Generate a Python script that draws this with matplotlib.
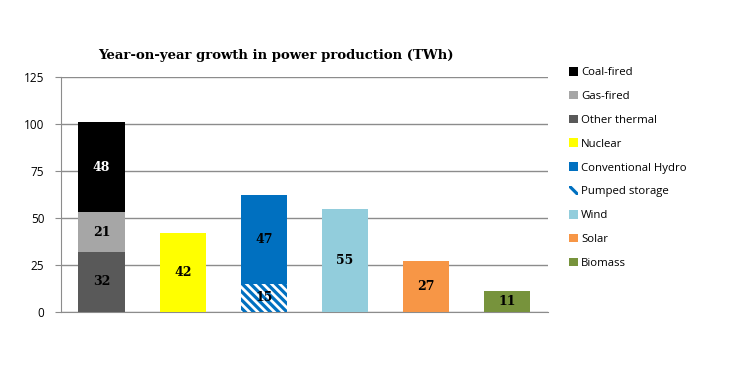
import matplotlib
matplotlib.use("Agg")
import matplotlib.pyplot as plt
from matplotlib.patches import Patch
import numpy as np

plt.rcParams['hatch.linewidth'] = 2.3

categories = ["Thermal", "Nuclear", "Hydro", "Wind", "Solar", "Biomass"]
series_names = ["Coal-fired", "Gas-fired", "Other thermal", "Nuclear",
                "Conventional Hydro", "Pumped storage", "Wind", "Solar", "Biomass"]
other_thermal = [32]
gas_fired = [21]
coal_fired = [48]
nuclear = [42]
pumped_storage = [15]
conventional_hydro = [47]
wind = [55]
solar = [27]
biomass = [11]
yticks = [0, 25, 50, 75, 100, 125]

colors = {
    "Coal-fired": "#000000",
    "Gas-fired": "#a6a6a6",
    "Other thermal": "#595959",
    "Nuclear": "#ffff00",
    "Conventional Hydro": "#0070c0",
    "Pumped storage": "#ffffff",
    "Wind": "#92cddc",
    "Solar": "#f79646",
    "Biomass": "#77933c",
}

stacks = [
    (0, [("Other thermal", other_thermal[0]), ("Gas-fired", gas_fired[0]), ("Coal-fired", coal_fired[0])]),
    (1, [("Nuclear", nuclear[0])]),
    (2, [("Pumped storage", pumped_storage[0]), ("Conventional Hydro", conventional_hydro[0])]),
    (3, [("Wind", wind[0])]),
    (4, [("Solar", solar[0])]),
    (5, [("Biomass", biomass[0])]),
]

HATCH = "\\" * 4

fig = plt.figure(figsize=(7.3, 3.65), dpi=100)
ax = fig.add_axes([0.0836, 0.1452, 0.667, 0.644])
width = 0.57
label_font = dict(family="DejaVu Serif", fontweight="bold", fontsize=9)

for xi, segs in stacks:
    bottom = 0
    for name, val in segs:
        if name == "Pumped storage":
            ax.bar(xi, val, width, bottom=bottom, color="white", edgecolor="#0070c0",
                   hatch=HATCH, linewidth=0, zorder=3)
        else:
            ax.bar(xi, val, width, bottom=bottom, color=colors[name], linewidth=0, zorder=3)
        tc = "white" if name == "Coal-fired" else "black"
        ax.text(xi, bottom + val / 2, str(val), ha="center", va="center",
                color=tc, zorder=5, **label_font)
        bottom += val

ax.set_xlim(-0.5, 5.5)
ax.set_ylim(0, 125)
ax.set_yticks(yticks)
ax.set_xticks([])
ax.yaxis.grid(True, color="#8c8c8c", linewidth=1)
ax.set_axisbelow(True)
for s in ["top", "right"]:
    ax.spines[s].set_visible(False)
ax.spines["left"].set_color("#8c8c8c")
ax.spines["bottom"].set_color("#8c8c8c")
ax.tick_params(axis="y", length=4, color="#8c8c8c", labelsize=8.5, pad=8)
for lbl in ax.get_yticklabels():
    lbl.set_family("Open Sans")

fig.text(0.378, 0.848, "Year-on-year growth in power production (TWh)",
         ha="center", va="center", family="DejaVu Serif", fontweight="bold", fontsize=9.5)

handles = []
for name in series_names:
    if name == "Pumped storage":
        handles.append(Patch(facecolor="white", edgecolor="#0070c0", hatch="\\\\", linewidth=0))
    else:
        handles.append(Patch(facecolor=colors[name], linewidth=0))
leg = fig.legend(handles, series_names, loc="upper left", bbox_to_anchor=(0.765, 0.845),
                 frameon=False, handlelength=0.8, handleheight=0.8, handletextpad=0.3,
                 labelspacing=1.1, prop={"family": "Open Sans", "size": 8.2})

fig.savefig("out.png", dpi=100)
